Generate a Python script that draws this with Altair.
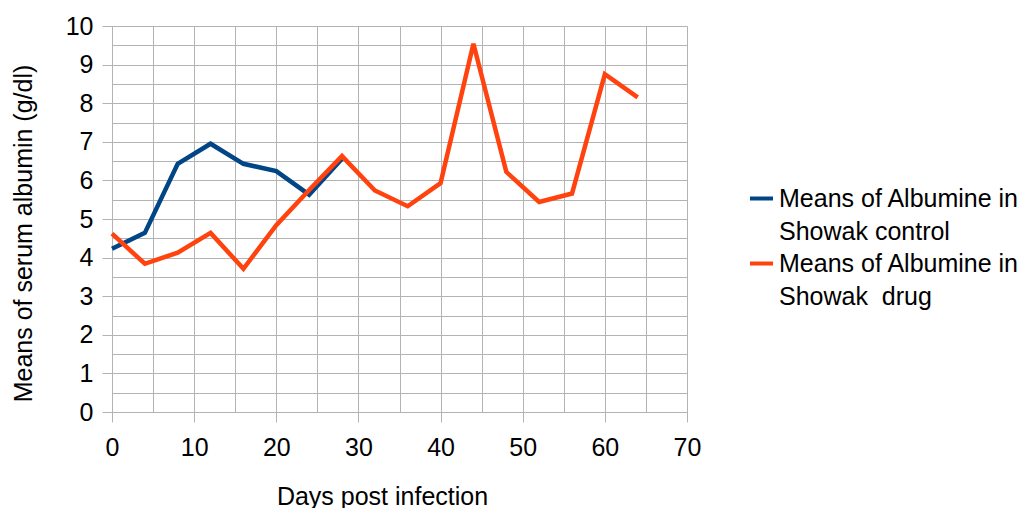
import altair as alt
import pandas as pd

days_control = [0, 4, 8, 12, 16, 20, 24, 28]
albumin_control = [4.23, 4.64, 6.43, 6.95, 6.43, 6.24, 5.63, 6.56]

days_drug = [0, 4, 8, 12, 16, 20, 24, 28, 32, 36, 40, 44, 48, 52, 56, 60, 64]
albumin_drug = [4.62, 3.84, 4.13, 4.64, 3.71, 4.84, 5.75, 6.63, 5.74, 5.33,
                5.93, 9.54, 6.22, 5.44, 5.66, 8.75, 8.15]

series_names = ["Means of Albumine in|Showak control", "Means of Albumine in|Showak\u00a0 drug"]
series_colors = ["#004586", "#ff420e"]

x_ticks = [0, 5, 10, 15, 20, 25, 30, 35, 40, 45, 50, 55, 60, 65, 70]
y_ticks = [0, 0.5, 1, 1.5, 2, 2.5, 3, 3.5, 4, 4.5, 5, 5.5, 6, 6.5, 7, 7.5, 8,
           8.5, 9, 9.5, 10]

rows = []
for d, v in zip(days_control, albumin_control):
    rows.append({"day": d, "value": v, "series": series_names[0]})
for d, v in zip(days_drug, albumin_drug):
    rows.append({"day": d, "value": v, "series": series_names[1]})
df = pd.DataFrame(rows)

FONT = "Liberation Sans"
GRID = "#b3b3b3"

chart = alt.Chart(df).mark_line(strokeWidth=4.5).encode(
    x=alt.X("day:Q",
            scale=alt.Scale(domain=[0, 70], nice=False),
            axis=alt.Axis(values=x_ticks, title="Days post infection",
                          labelExpr="datum.value % 10 === 0 ? format(datum.value, 'd') : ''",
                          tickOpacity={"condition": {"test": "datum.value % 10 === 0", "value": 1}, "value": 0},
                          labelFlush=False, labelOverlap=False,
                          tickSize=10, labelPadding=13, labelFontSize=25,
                          titleFontSize=25, titleFontWeight="normal",
                          titleX=270, titleY=84, titleBaseline="middle",
                          titleAlign="center")),
    y=alt.Y("value:Q",
            scale=alt.Scale(domain=[0, 10], nice=False),
            axis=alt.Axis(values=y_ticks, title="Means of serum albumin (g/dl)",
                          labelExpr="datum.value % 1 === 0 ? format(datum.value, 'd') : ''",
                          tickOpacity={"condition": {"test": "datum.value % 1 === 0", "value": 1}, "value": 0},
                          labelFlush=False, labelOverlap=False,
                          tickSize=10, labelPadding=9, labelFontSize=25,
                          titleFontSize=25, titleFontWeight="normal",
                          titleX=-89, titleY=207, titleBaseline="middle",
                          titleAlign="center", titleAngle=270)),
    color=alt.Color("series:N",
                    scale=alt.Scale(domain=series_names, range=series_colors),
                    legend=alt.Legend(title=None, orient="none", legendX=636, legendY=159,
                                      symbolType="stroke", symbolSize=529,
                                      symbolStrokeWidth=4, labelOffset=4,
                                      labelFontSize=25, labelLimit=400,
                                      labelBaseline="middle", rowPadding=5, padding=0,
                                      labelExpr="split(datum.label, '|')")),
).properties(
    width=575, height=386,
    autosize=alt.AutoSizeParams(type="none"),
    padding={"left": 104, "top": 18, "right": 335, "bottom": 96},
).configure(
    font=FONT,
    style={"guide-label": {"lineHeight": 33}},
).configure_axis(
    gridColor=GRID, domainColor=GRID, tickColor=GRID, gridWidth=1,
    labelColor="#000000", titleColor="#000000", labelFont=FONT, titleFont=FONT,
).configure_legend(
    labelFont=FONT, labelColor="#000000",
).configure_view(stroke=None)

chart.save("out.html", embed_options={"renderer": "svg", "actions": False})
